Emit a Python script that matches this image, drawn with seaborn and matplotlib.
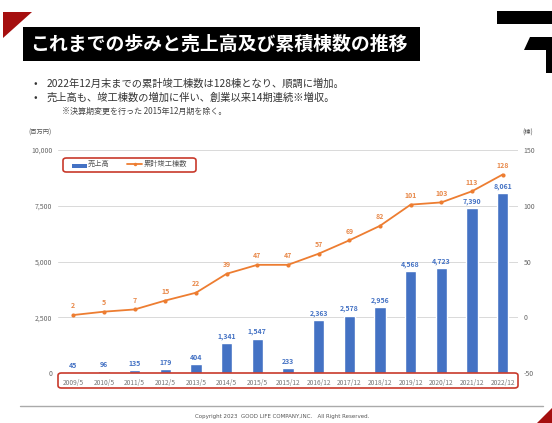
import numpy as np
import pandas as pd
import matplotlib
matplotlib.use("Agg")
import matplotlib.pyplot as plt
from matplotlib.patches import Polygon, Rectangle, FancyBboxPatch
from matplotlib.lines import Line2D
import seaborn as sns

# ---- data ----
periods = ["2009/5", "2010/5", "2011/5", "2012/5", "2013/5", "2014/5", "2015/5",
           "2015/12", "2016/12", "2017/12", "2018/12", "2019/12", "2020/12",
           "2021/12", "2022/12"]
sales = [45, 96, 135, 179, 404, 1341, 1547, 233, 2363, 2578, 2956, 4568, 4723, 7390, 8061]
buildings = [2, 5, 7, 15, 22, 39, 47, 47, 57, 69, 82, 101, 103, 113, 128]
left_ticks = [0, 2500, 5000, 7500, 10000]
right_ticks = [-50, 0, 50, 100, 150]

title = "これまでの歩みと売上高及び累積棟数の推移"
bullets = ["2022年12月末までの累計竣工棟数は128棟となり、順調に増加。",
           "売上高も、竣工棟数の増加に伴い、創業以来14期連続※増収。"]
note = "※決算期変更を行った 2015年12月期を除く。"
copyright_text = "Copyright 2023  GOOD LIFE COMPANY,INC.   All Right Reserved."

BLUE = "#4472C4"
ORANGE = "#ED7D31"
ORANGE_TXT = "#E8894A"
RED = "#C8392B"

sns.set_theme(style="white")
plt.rcParams["font.family"] = ["Noto Sans CJK JP", "DejaVu Sans"]

W, H = 552, 423
fig = plt.figure(figsize=(W / 100, H / 100), dpi=100)
fig.patch.set_facecolor("white")


def fx(x):
    return x / W


def fy(y):
    return 1 - y / H


def poly(pts, color):
    fig.patches.append(Polygon([(fx(x), fy(y)) for x, y in pts], closed=True,
                               transform=fig.transFigure, facecolor=color,
                               edgecolor="none"))


# ---- slide header ----
poly([(3, 12), (32, 12), (3, 38)], "#A50F0F")
fig.patches.append(Rectangle((fx(23), fy(61)), fx(420) - fx(23), fy(27) - fy(61),
                             transform=fig.transFigure, facecolor="black",
                             edgecolor="none"))
fig.text(fx(30), fy(44.5), title, color="white", fontsize=13.6, fontweight="bold",
         va="center", ha="left")

# logo
poly([(497, 11), (552, 11), (552, 24), (497, 24)], "black")
poly([(530, 37), (552, 37), (552, 73), (546, 73), (546, 50), (524, 50)], "black")

for i, line in enumerate(bullets):
    yy = 84 + 14 * i
    fig.text(fx(34), fy(yy), "•", fontsize=7.5, color="#333333", va="center")
    fig.text(fx(47), fy(yy), line, fontsize=7.4, color="#333333", va="center")
fig.text(fx(62), fy(111), note, fontsize=5.8, color="#444444", va="center")

# ---- chart ----
ax = fig.add_axes([fx(58), fy(373), fx(518) - fx(58), fy(150) - fy(373)])
ax.set_facecolor("none")
df = pd.DataFrame({"period": periods, "sales": sales, "buildings": buildings})

sns.barplot(data=df, x="period", y="sales", ax=ax, color=BLUE, width=0.36,
            saturation=1, zorder=2)
ax.set_ylim(0, 10000)
ax.set_yticks(left_ticks)
ax.set_yticklabels([f"{v:,}" for v in left_ticks], fontsize=5, color="#666666")
ax.grid(axis="y", color="#D9D9D9", linewidth=0.7, zorder=0)
ax.set_axisbelow(True)
ax.set_xlabel("")
ax.set_ylabel("")
ax.tick_params(axis="both", length=0, pad=4)
ax.set_xticks(range(len(periods)))
ax.set_xticklabels(periods, fontsize=4.8, color="#777777")
ax.tick_params(axis="x", pad=4)
for s in ax.spines.values():
    s.set_visible(False)

ax2 = ax.twinx()
sns.lineplot(x=np.arange(len(periods)), y=df["buildings"], ax=ax2, color=ORANGE,
             linewidth=1.3, marker="o", markersize=3, markeredgewidth=0)
ax2.set_ylim(-50, 150)
ax2.set_yticks(right_ticks)
ax2.set_yticklabels([str(v) for v in right_ticks], fontsize=5, color="#666666")
ax2.tick_params(axis="y", length=0, pad=4)
ax2.set_ylabel("")
ax2.grid(False)
for s in ax2.spines.values():
    s.set_visible(False)
for i, v in enumerate(df["buildings"]):
    ax2.annotate(str(v), (i, v), xytext=(0, 4), textcoords="offset points",
                 ha="center", va="bottom", fontsize=5, color=ORANGE_TXT,
                 fontweight="bold")
# sales labels sit above the line so they stay readable
for i, v in enumerate(df["sales"]):
    ax2.annotate(f"{v:,}", (i, v), xycoords=ax.transData, xytext=(0, 2.2),
                 textcoords="offset points", ha="center", va="bottom",
                 fontsize=5, color=BLUE, fontweight="bold", zorder=10)
ax.set_xlim(-0.5, len(periods) - 0.5)
ax2.set_xlim(-0.5, len(periods) - 0.5)

fig.text(fx(28), fy(133), "(百万円)", fontsize=4.5, color="#555555", va="center")
fig.text(fx(522), fy(133), "(棟)", fontsize=4.5, color="#555555", va="center")

# legend
fig.patches.append(FancyBboxPatch((fx(63), fy(172)), fx(196) - fx(63), fy(158) - fy(172),
                                  boxstyle="round,pad=0,rounding_size=0.006",
                                  transform=fig.transFigure, facecolor="white",
                                  edgecolor=RED, linewidth=1.2, zorder=5))
fig.patches.append(Rectangle((fx(72), fy(168)), fx(87) - fx(72), fy(164) - fy(168),
                             transform=fig.transFigure, facecolor=BLUE,
                             edgecolor="none", zorder=6))
fig.text(fx(88), fy(164), "売上高", fontsize=5.2, color="#555555", va="center",
         zorder=6)
fig.lines.append(Line2D([fx(127), fx(142)], [fy(164), fy(164)], color=ORANGE,
                        linewidth=1.3, marker=None, transform=fig.transFigure,
                        zorder=6))
fig.lines.append(Line2D([fx(134.5)], [fy(164)], color=ORANGE, marker="o",
                        markersize=2.5, markeredgewidth=0,
                        transform=fig.transFigure, zorder=6))
fig.text(fx(144), fy(164), "累計竣工棟数", fontsize=5.2, color="#555555",
         va="center", zorder=6)

# highlight around the period labels
fig.patches.append(FancyBboxPatch((fx(58), fy(388)), fx(518) - fx(58), fy(373) - fy(388),
                                  boxstyle="round,pad=0,rounding_size=0.006",
                                  transform=fig.transFigure, facecolor="none",
                                  edgecolor=RED, linewidth=1.2, zorder=5))

# ---- footer ----
fig.lines.append(Line2D([fx(20), fx(543)], [fy(406), fy(406)], color="#AAAAAA",
                        linewidth=1.0, transform=fig.transFigure))
fig.text(fx(282), fy(416), copyright_text, fontsize=4, color="#555555",
         ha="center", va="center", family="DejaVu Sans")
poly([(537, 423), (552, 408), (552, 423)], "#A50F0F")

fig.savefig("out.png", dpi=100)
